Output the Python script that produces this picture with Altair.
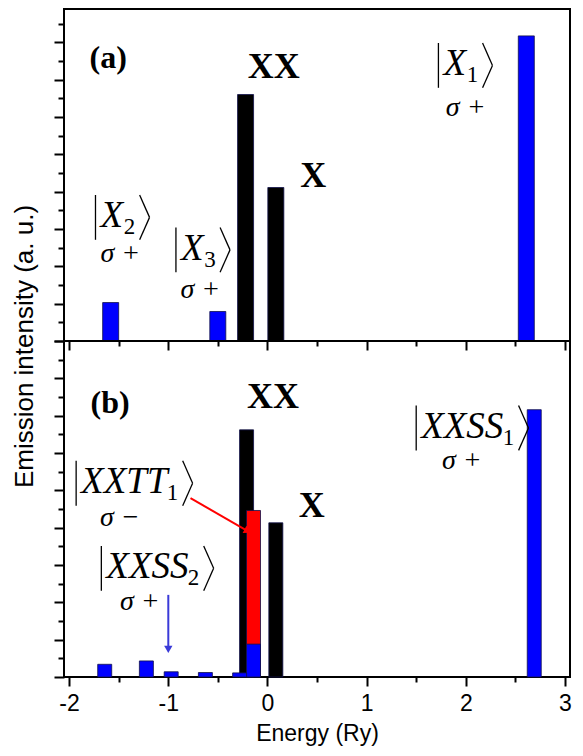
import altair as alt
import pandas as pd

# ---------------- data ----------------
# Panel (a)
a_energy = [-1.58, -0.50, -0.22, 0.085, 2.61]
a_intensity = [1.03, 0.79, 6.60, 4.11, 8.17]
a_kind = ["blue", "blue", "black", "black", "blue"]

# Panel (b)  (drawing order matters: later rows are drawn on top)
b_energy = [-0.21, -0.14, -0.14, 0.085, -1.64, -1.22, -0.97, -0.625, -0.28, 2.69]
b_intensity = [6.62, 4.46, 0.88, 4.13, 0.34, 0.43, 0.14, 0.12, 0.11, 7.16]
b_kind = ["black", "red", "blue", "black", "blue", "blue", "blue", "blue", "blue", "blue"]

# ---- annotations (data coordinates) ----
a_tag = ["(a)"]; a_tag_x = [-1.605]; a_tag_y = [7.57]
a_bold = ["XX", "X"]; a_bold_x = [0.065, 0.461]; a_bold_y = [7.35, 4.41]
# kets |body_sub>
a_ket_body = ["X", "X", "X"]; a_ket_sub = ["1", "2", "3"]
a_ket_left = [1.774, -1.683, -0.872]
a_ket_subx = [2.009, -1.448, -0.637]
a_ket_brx = [2.219, -1.238, -0.427]
a_ket_y = [7.38, 3.31, 2.44]
a_sig = ["\u03c3 +", "\u03c3 +", "\u03c3 +"]
a_sig_x = [1.999, -1.482, -0.677]; a_sig_y = [6.24, 2.32, 1.37]

b_tag = ["(b)"]; b_tag_x = [-1.585]; b_tag_y = [7.35]
b_bold = ["XX", "X"]; b_bold_x = [0.056, 0.446]; b_bold_y = [7.50, 4.59]
b_ket_body = ["XXSS", "XXTT", "XXSS"]; b_ket_sub = ["1", "1", "2"]
b_ket_left = [1.550, -1.878, -1.624]
b_ket_subx = [2.372, -1.014, -0.802]
b_ket_brx = [2.582, -0.804, -0.592]
b_ket_y = [6.67, 5.19, 2.91]
b_sig = ["\u03c3 +", "\u03c3 \u2212", "\u03c3 +"]
b_sig_x = [1.96, -1.487, -1.287]; b_sig_y = [5.79, 4.26, 2.02]

arrow_color = ["red", "blue"]
arrow_x = [-0.775, -0.999]; arrow_y = [4.79, 2.20]
arrow_x2 = [-0.198, -0.999]; arrow_y2 = [3.91, 0.74]
arrow_angle = [117, 180]

x_ticks = [-2 + 0.5 * i for i in range(11)]

# ---------------- styling ----------------
SERIF = "Liberation Serif, DejaVu Serif"
SANS = "Liberation Sans, Arial, DejaVu Sans"
W = 506
H_TOP = 332
H_BOT = 336

color_scale = alt.Scale(domain=["black", "red", "blue"], range=["#000000", "#ff0000", "#0000ff"])
arrow_scale = alt.Scale(domain=["red", "blue"], range=["#ff0000", "#3a3ad8"])


def x_axis(labels):
    return alt.Axis(
        values=x_ticks,
        labels=labels,
        labelExpr="datum.value % 1 === 0 ? '' + datum.value : ''",
        labelFont=SANS, labelFontSize=23, labelColor="black",
        labelFlush=False, labelOverlap=False, labelPadding=6,
        tickSize={"condition": {"test": "datum.value % 1 === 0", "value": 9}, "value": 5},
        tickWidth=2, tickColor="black", domain=False, grid=False,
        title="Energy (Ry)" if labels else None,
        titleFont=SANS, titleFontSize=23, titleFontWeight="normal", titleColor="black",
        titlePadding=7,
    )


def y_axis(top_dom, title):
    vals = [0.5 * i for i in range(int(top_dom * 2) + 1)]
    kw = dict(
        values=vals, labels=False,
        tickSize={"condition": {"test": "datum.value % 1 === 0", "value": 10}, "value": 6},
        tickWidth=2, tickColor="black", domain=False, grid=False,
    )
    if title:
        kw.update(title="Emission intensity (a. u.)", titleFont=SANS, titleFontSize=26,
                  titleFontWeight="normal", titleColor="black", titlePadding=16, titleY=337)
    else:
        kw.update(title=None)
    return alt.Axis(**kw)


def panel(energy, intensity, kind, tag, tx, ty, bold, bx, by,
          kbody, ksub, kleft, ksubx, kbrx, ky, sig, sx, sy,
          ydom, height, bar_w, labels, title, arrows=False):
    xs = alt.Scale(domain=[-2, 3], nice=False, zero=False)
    ys = alt.Scale(domain=[0, ydom], nice=False, zero=True)
    xa = x_axis(labels)
    ya = y_axis(ydom, title)
    xenc = alt.X("x:Q", scale=xs, axis=xa)
    yenc = alt.Y("y:Q", scale=ys, axis=ya, stack=None)

    def X(f):
        return alt.X(f + ":Q", scale=xs, axis=xa)

    def Y(f):
        return alt.Y(f + ":Q", scale=ys, axis=ya, stack=None)

    bars_df = pd.DataFrame({"x": energy, "y": intensity, "kind": kind})
    bars = alt.Chart(bars_df).mark_bar(size=bar_w, orient="vertical", stroke="#10104a",
                                       strokeWidth=0.8).encode(
        x=xenc, y=yenc,
        color=alt.Color("kind:N", scale=color_scale, legend=None),
    )

    def txt(labels_, xv, yv, align="center", baseline="middle", **mk):
        df = pd.DataFrame({"x": xv, "y": yv, "t": labels_})
        return alt.Chart(df).mark_text(align=align, baseline=baseline, color="black",
                                       **mk).encode(x=xenc, y=yenc, text="t:N")

    # ket delimiters drawn as thin strokes: "|" and the angle bracket
    kdf = pd.DataFrame({"left": kleft, "brx": kbrx, "ky": ky})
    kbase = alt.Chart(kdf).transform_calculate(
        barx="datum.left - 0.05", lo="datum.ky - 0.6", hi="datum.ky + 0.6",
        bl="datum.brx - 0.05", br="datum.brx + 0.05",
    )
    ket_bar = kbase.mark_rule(color="black", strokeWidth=1.3).encode(
        x=X("barx"), y=Y("lo"), y2="hi:Q")
    ket_up = kbase.mark_rule(color="black", strokeWidth=1.3).encode(
        x=X("bl"), y=Y("hi"), x2="br:Q", y2="ky:Q")
    ket_dn = kbase.mark_rule(color="black", strokeWidth=1.3).encode(
        x=X("br"), y=Y("ky"), x2="bl:Q", y2="lo:Q")

    layers = [
        bars,
        txt(tag, tx, ty, font=SERIF, fontWeight="bold", fontSize=32),
        txt(bold, bx, by, font=SERIF, fontWeight="bold", fontSize=36),
        ket_bar, ket_up, ket_dn,
        txt(kbody, kleft, ky, align="left", baseline="alphabetic",
            font=SERIF, fontStyle="italic", fontSize=37, dy=10),
        txt(ksub, ksubx, ky, align="left", baseline="alphabetic",
            font=SERIF, fontSize=23, dy=17),
        txt(sig, sx, sy, font=SERIF, fontStyle="italic", fontSize=28),
    ]
    if arrows:
        adf = pd.DataFrame({"x": arrow_x, "y": arrow_y, "x2": arrow_x2, "y2": arrow_y2,
                            "c": arrow_color, "ang": arrow_angle})
        rule = alt.Chart(adf).mark_rule(strokeWidth=2).encode(
            x=xenc, y=yenc, x2="x2:Q", y2="y2:Q",
            color=alt.Color("c:N", scale=arrow_scale, legend=None),
        )
        head = alt.Chart(adf).mark_point(shape="triangle-up", filled=True, size=70,
                                         opacity=1).encode(
            x=X("x2"), y=Y("y2"),
            angle=alt.Angle("ang:Q", scale=None),
            color=alt.Color("c:N", scale=arrow_scale, legend=None),
        )
        layers += [rule, head]
    return alt.layer(*layers).resolve_scale(color="independent").properties(width=W, height=height)


top = panel(a_energy, a_intensity, a_kind, a_tag, a_tag_x, a_tag_y, a_bold, a_bold_x, a_bold_y,
            a_ket_body, a_ket_sub, a_ket_left, a_ket_subx, a_ket_brx, a_ket_y,
            a_sig, a_sig_x, a_sig_y,
            ydom=8.89, height=H_TOP, bar_w=16, labels=False, title=True)
bottom = panel(b_energy, b_intensity, b_kind, b_tag, b_tag_x, b_tag_y, b_bold, b_bold_x, b_bold_y,
               b_ket_body, b_ket_sub, b_ket_left, b_ket_subx, b_ket_brx, b_ket_y,
               b_sig, b_sig_x, b_sig_y,
               ydom=9.0, height=H_BOT, bar_w=14, labels=True, title=False, arrows=True)

chart = alt.vconcat(top, bottom, spacing=0, bounds="flush").properties(
    padding={"left": 2, "top": 0, "right": 0, "bottom": 0}
).configure_view(stroke="black", strokeWidth=2).configure_axis(grid=False)

chart.save("out.html", embed_options={"renderer": "svg", "actions": False})
